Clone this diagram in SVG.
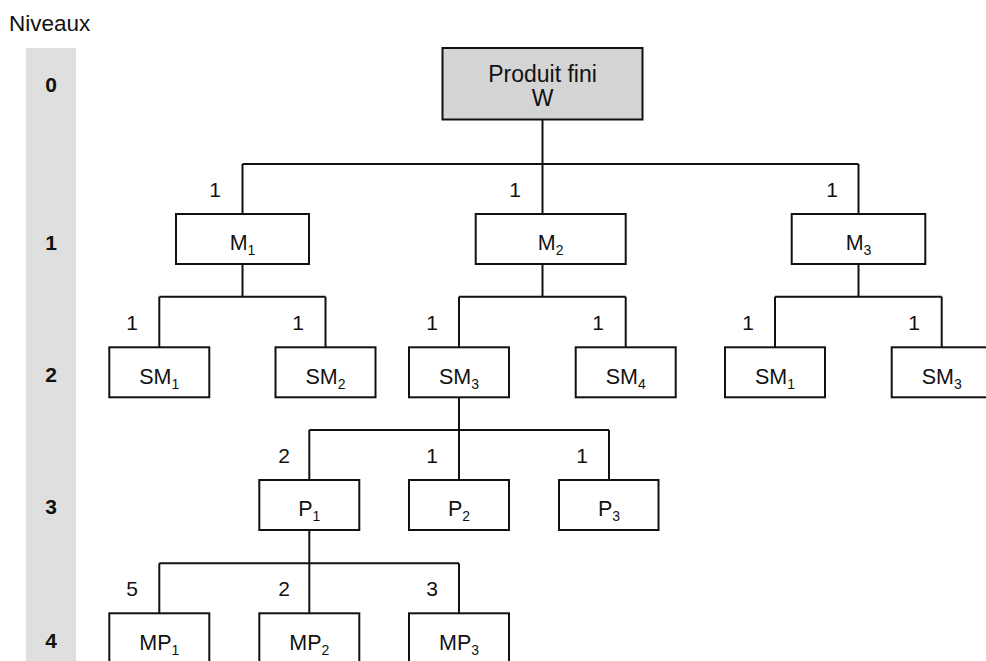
<svg xmlns="http://www.w3.org/2000/svg" width="986" height="661" viewBox="0 0 986 661">
  <style>
    text { font-family: "Liberation Sans", Arial, Helvetica, sans-serif; fill: #111; }
    .lvl { font-size: 21px; font-weight: bold; text-anchor: middle; }
    .qty { font-size: 21px; text-anchor: middle; }
    .lbl { font-size: 21.5px; text-anchor: middle; }
    .sub { font-size: 14px; }
    .box { fill: #ffffff; stroke: #111; stroke-width: 2; }
    .root { fill: #d4d4d4; stroke: #111; stroke-width: 2; }
    .wire { fill: none; stroke: #111; stroke-width: 2; }
  </style>

  <rect width="986" height="661" fill="#ffffff"/>

  <!-- level column -->
  <g id="levels">
    <text x="9" y="31" style="font-size:22.5px">Niveaux</text>
    <rect x="26" y="48" width="50" height="613" fill="#dfdfdf"/>
    <text class="lvl" x="51" y="92">0</text>
    <text class="lvl" x="51" y="250">1</text>
    <text class="lvl" x="51" y="382">2</text>
    <text class="lvl" x="51" y="514">3</text>
    <text class="lvl" x="51" y="648">4</text>
  </g>

  <!-- connectors -->
  <g id="connectors" class="wire">
    <!-- W to level 1 -->
    <path d="M542.5 119.5 V164 M242.5 164 H858.5 M242.5 164 V214 M542.5 164 V214 M858.5 164 V214"/>
    <!-- M1 to level 2 -->
    <path d="M242.5 264 V296.7 M159.3 296.7 H325.5 M159.3 296.7 V347.3 M325.5 296.7 V347.3"/>
    <!-- M2 to level 2 -->
    <path d="M542.5 264 V296.7 M459 296.7 H625.7 M459 296.7 V347.3 M625.7 296.7 V347.3"/>
    <!-- M3 to level 2 -->
    <path d="M858.5 264 V296.7 M775 296.7 H941.7 M775 296.7 V347.3 M941.7 296.7 V347.3"/>
    <!-- SM3 to level 3 -->
    <path d="M459 397.3 V430 M309.3 430 H609 M309.3 430 V480 M459 430 V480 M609 430 V480"/>
    <!-- P1 to level 4 -->
    <path d="M309.3 530 V563.3 M159.3 563.3 H459 M159.3 563.3 V613.3 M309.3 563.3 V613.3 M459 563.3 V613.3"/>
  </g>

  <!-- quantities -->
  <g id="quantities">
    <text class="qty" x="215" y="197">1</text>
    <text class="qty" x="515" y="197">1</text>
    <text class="qty" x="832" y="197">1</text>
    <text class="qty" x="132" y="330">1</text>
    <text class="qty" x="298" y="330">1</text>
    <text class="qty" x="432" y="330">1</text>
    <text class="qty" x="598" y="330">1</text>
    <text class="qty" x="748" y="330">1</text>
    <text class="qty" x="914" y="330">1</text>
    <text class="qty" x="284" y="463">2</text>
    <text class="qty" x="432" y="463">1</text>
    <text class="qty" x="582" y="463">1</text>
    <text class="qty" x="132" y="596">5</text>
    <text class="qty" x="284" y="596">2</text>
    <text class="qty" x="432" y="596">3</text>
  </g>

  <!-- level 0 -->
  <g id="node-W">
    <rect class="root" x="442.5" y="48" width="200" height="71.5"/>
    <text class="lbl" x="542.5" y="82" style="font-size:23px">Produit fini</text>
    <text class="lbl" x="542.5" y="106" style="font-size:23px">W</text>
  </g>

  <!-- level 1 -->
  <g id="node-M1">
    <rect class="box" x="176" y="214" width="133" height="50"/>
    <text class="lbl" x="242.5" y="250">M<tspan class="sub" dy="5">1</tspan></text>
  </g>
  <g id="node-M2">
    <rect class="box" x="475.7" y="214" width="150" height="50"/>
    <text class="lbl" x="550.7" y="250">M<tspan class="sub" dy="5">2</tspan></text>
  </g>
  <g id="node-M3">
    <rect class="box" x="791.7" y="214" width="133.6" height="50"/>
    <text class="lbl" x="858.5" y="250">M<tspan class="sub" dy="5">3</tspan></text>
  </g>

  <!-- level 2 -->
  <g id="node-SM1-a">
    <rect class="box" x="109.3" y="347.3" width="100" height="50"/>
    <text class="lbl" x="159.3" y="384">SM<tspan class="sub" dy="5">1</tspan></text>
  </g>
  <g id="node-SM2">
    <rect class="box" x="275.5" y="347.3" width="100" height="50"/>
    <text class="lbl" x="325.5" y="384">SM<tspan class="sub" dy="5">2</tspan></text>
  </g>
  <g id="node-SM3-a">
    <rect class="box" x="409" y="347.3" width="100" height="50"/>
    <text class="lbl" x="459" y="384">SM<tspan class="sub" dy="5">3</tspan></text>
  </g>
  <g id="node-SM4">
    <rect class="box" x="575.7" y="347.3" width="100" height="50"/>
    <text class="lbl" x="625.7" y="384">SM<tspan class="sub" dy="5">4</tspan></text>
  </g>
  <g id="node-SM1-b">
    <rect class="box" x="725" y="347.3" width="100" height="50"/>
    <text class="lbl" x="775" y="384">SM<tspan class="sub" dy="5">1</tspan></text>
  </g>
  <g id="node-SM3-b">
    <rect class="box" x="891.7" y="347.3" width="100" height="50"/>
    <text class="lbl" x="941.7" y="384">SM<tspan class="sub" dy="5">3</tspan></text>
  </g>

  <!-- level 3 -->
  <g id="node-P1">
    <rect class="box" x="259.3" y="480" width="100" height="50"/>
    <text class="lbl" x="309.3" y="516">P<tspan class="sub" dy="5">1</tspan></text>
  </g>
  <g id="node-P2">
    <rect class="box" x="409" y="480" width="100" height="50"/>
    <text class="lbl" x="459" y="516">P<tspan class="sub" dy="5">2</tspan></text>
  </g>
  <g id="node-P3">
    <rect class="box" x="559" y="480" width="99.5" height="50"/>
    <text class="lbl" x="609" y="516">P<tspan class="sub" dy="5">3</tspan></text>
  </g>

  <!-- level 4 -->
  <g id="node-MP1">
    <rect class="box" x="109.3" y="613.3" width="100" height="50"/>
    <text class="lbl" x="159.3" y="650">MP<tspan class="sub" dy="5">1</tspan></text>
  </g>
  <g id="node-MP2">
    <rect class="box" x="259.3" y="613.3" width="100" height="50"/>
    <text class="lbl" x="309.3" y="650">MP<tspan class="sub" dy="5">2</tspan></text>
  </g>
  <g id="node-MP3">
    <rect class="box" x="409" y="613.3" width="100" height="50"/>
    <text class="lbl" x="459" y="650">MP<tspan class="sub" dy="5">3</tspan></text>
  </g>
</svg>
